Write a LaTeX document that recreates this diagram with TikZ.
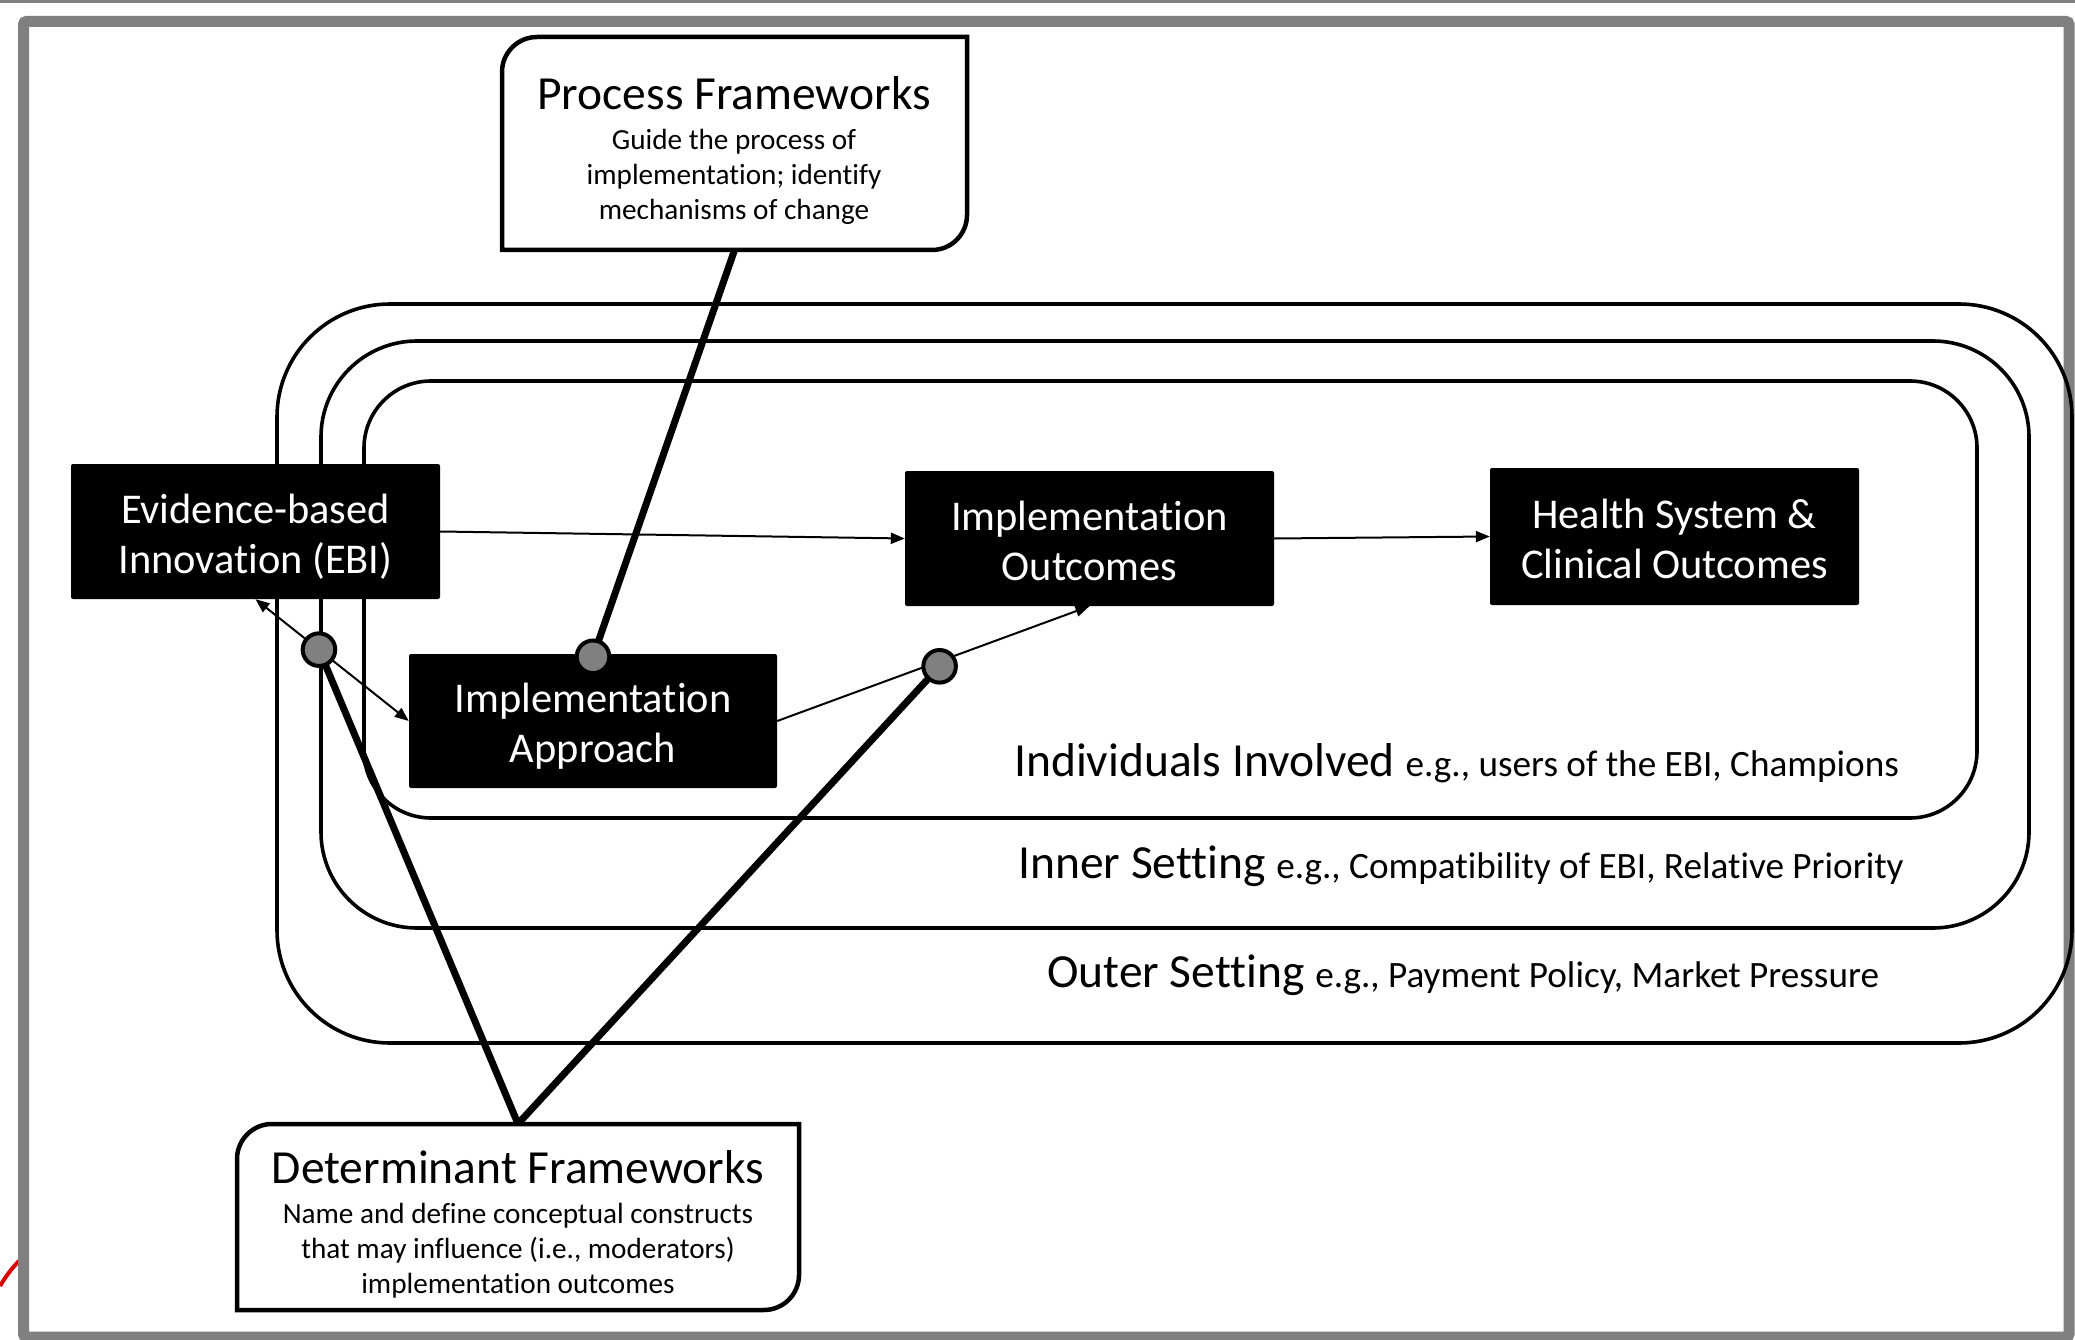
\documentclass[tikz,border=0pt]{standalone}
\usepackage{fontspec}
\setmainfont{Carlito}[Ligatures={NoCommon}]
\usetikzlibrary{arrows.meta,calc}
\definecolor{framegray}{RGB}{128,128,128}
\definecolor{dotgray}{RGB}{128,128,128}
\begin{document}
\begin{tikzpicture}[x=1pt,y=-1pt,
  ringline/.style={draw=black, line width=3.6pt},
  blackbox/.style={fill=black, rounded corners=2pt, inner sep=0pt,
    minimum width=369pt, minimum height=135pt},
  boxtext/.style={text=white, align=center, inner sep=0pt, font=\fontsize{42.4pt}{50pt}\selectfont},
  flowarrow/.style={line width=2pt, -{Triangle[length=14pt,width=11pt]}},
  fwline/.style={line width=7pt, line join=miter},
  fwbox/.style={draw=black, fill=white, line width=4.5pt},
  fwtitle/.style={anchor=base, inner sep=0pt, font=\fontsize{47.5pt}{50pt}\selectfont},
  fwsub/.style={anchor=base, inner sep=0pt, font=\fontsize{29.2pt}{35pt}\selectfont},
  setlabel/.style={anchor=base west, inner sep=0pt},
  dot/.style={circle, draw=black, line width=4pt, fill=dotgray, minimum size=32.6pt, inner sep=0pt},
  anchorbox/.style={draw=none, inner sep=0pt}]
\useasboundingbox (0,0) rectangle (2075,1340);
\fill[white] (0,0) rectangle (2075,1340);
% frame
\draw[framegray, line width=3pt] (0,1.5) -- (2075,1.5);
\draw[red!85!black, line width=4pt] (0,1286) .. controls (6,1276) and (12,1268) .. (19,1261);
\draw[framegray, line width=11pt, rounded corners=3pt] (23.5,21.5) rectangle (2069,1337);
% setting rings
\draw[ringline, rounded corners=113pt] (277,304) rectangle (2072,1043);
\draw[ringline, rounded corners=96pt] (321,341) rectangle (2029,928);
\draw[ringline, rounded corners=67pt] (364,381) rectangle (1977,818);
% setting labels
\node[setlabel] (lind) at (1014,776) {\fontsize{47.5pt}{50pt}\selectfont Individuals Involved \fontsize{37.2pt}{40pt}\selectfont e.g., users of the EBI, Champions};
\node[setlabel] (linner) at (1018,878) {\fontsize{47.5pt}{50pt}\selectfont Inner Setting \fontsize{37.2pt}{40pt}\selectfont e.g., Compatibility of EBI, Relative Priority};
\node[setlabel] (louter) at (1047,987) {\fontsize{47.5pt}{50pt}\selectfont Outer Setting \fontsize{37.2pt}{40pt}\selectfont e.g., Payment Policy, Market Pressure};
% black boxes
\node[blackbox] (ebi) at (255.5,531.5) {};
\node[blackbox, minimum width=368pt, minimum height=134pt] (ia) at (593,721) {};
\node[blackbox] (io) at (1089.5,538.5) {};
\node[blackbox, minimum height=137pt] (hs) at (1674.5,536.5) {};
\node[boxtext] (ebit) at ($(ebi.center)+(0,5)$) {Evidence-based\\Innovation (EBI)};
\node[boxtext] (iat) at ($(ia.center)+(0,5)$) {Implementation\\Approach};
\node[boxtext] (iot) at ($(io.center)+(0,2)$) {Implementation\\Outcomes};
\node[boxtext] (hst) at ($(hs.center)+(0,2)$) {Health System \&\\Clinical Outcomes};
% thin arrows
\draw[flowarrow] (ebi.east) -- (io.west);
\draw[flowarrow] (io.east) -- (hs.west);
\draw[flowarrow, {Triangle[length=14pt,width=11pt]}-{Triangle[length=14pt,width=11pt]}] (ebi.south) -- (ia.west);
\draw[flowarrow] (ia.east) -- (io.south);
\coordinate (d1) at ($(ebi.south)!0.414!(ia.west)$);
\coordinate (d2) at ($(ia.east)!0.52!(io.south)+(0,5)$);
\coordinate (d3) at ($(ia.north)+(0,3)$);
% framework anchor nodes
\node[anchorbox, minimum width=465pt, minimum height=213pt] (pf) at (734.5,143.5) {};
\node[anchorbox, minimum width=562pt, minimum height=186pt] (df) at (518,1217) {};
% thick framework lines
\draw[fwline] (pf.south) -- (d3);
\draw[fwline] (d1) -- (df.north) -- (d2);
% framework boxes
\draw[fwbox] (502,72) .. controls (502,52.7) and (517.7,37) .. (537,37) -- (967,37) -- (967,215)
  .. controls (967,234.3) and (951.3,250) .. (932,250) -- (502,250) -- cycle;
\draw[fwbox] (237,1159) .. controls (237,1139.7) and (252.7,1124) .. (272,1124) -- (799,1124) -- (799,1275)
  .. controls (799,1294.3) and (783.3,1310) .. (764,1310) -- (237,1310) -- cycle;
\node[fwtitle] (pft) at (734,110) {Process Frameworks};
\node[fwsub] (pfs1) at (734,150) {Guide the process of};
\node[fwsub] (pfs2) at (734,185) {implementation; identify};
\node[fwsub] (pfs3) at (734,220) {mechanisms of change};
\node[fwtitle] (dft) at (518,1183) {Determinant Frameworks};
\node[fwsub] (dfs1) at (518,1223) {Name and define conceptual constructs};
\node[fwsub] (dfs2) at (518,1258) {that may influence (i.e., moderators)};
\node[fwsub] (dfs3) at (518,1293) {implementation outcomes};
% dots
\node[dot] (dot1) at (d1) {};
\node[dot] (dot2) at (d2) {};
\node[dot] (dot3) at (d3) {};
\end{tikzpicture}
\end{document}
